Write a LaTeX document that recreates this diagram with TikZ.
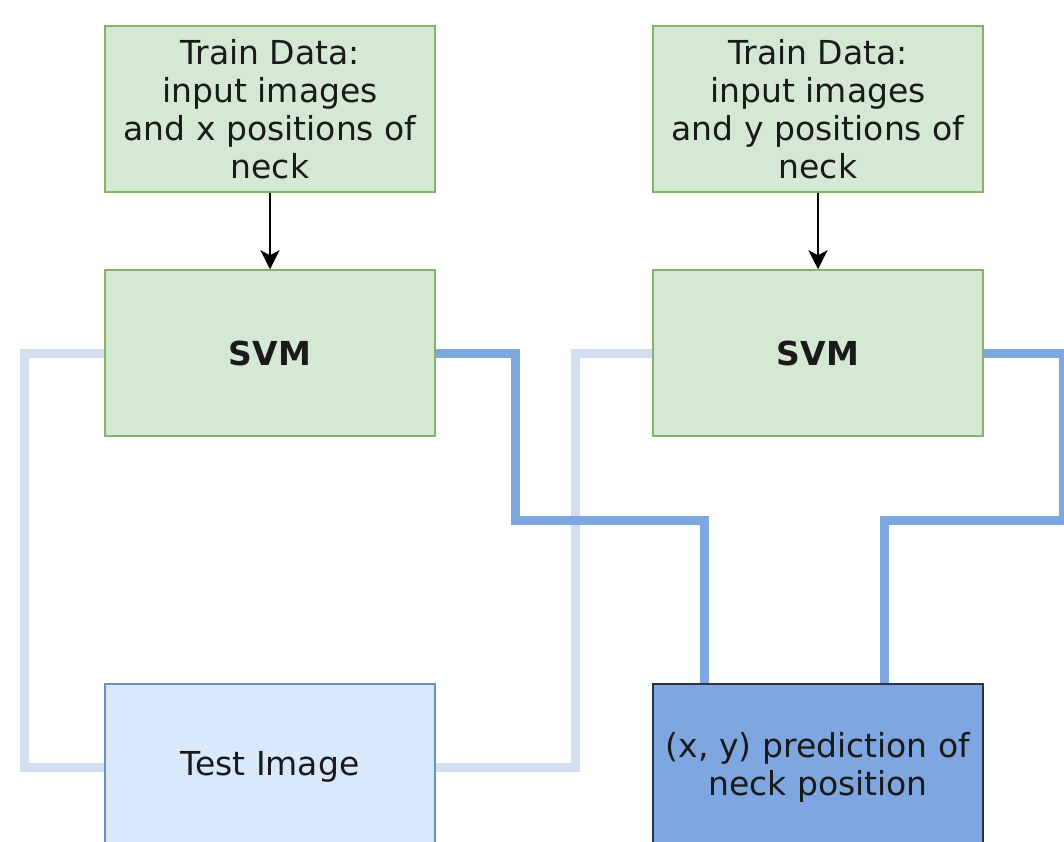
\documentclass[tikz,border=0pt]{standalone}
\usepackage{fontspec}
\setmainfont{DejaVu Sans}
\usetikzlibrary{arrows.meta}

\begin{document}
\begin{tikzpicture}[x=1pt, y=-1pt,
    trainBox/.style={draw=greenBorder, fill=greenFill, line width=1.5pt, minimum width=\boxWidth pt, minimum height=\boxHeight pt, inner sep=2pt, align=center, text=textColour, font=\fontsize{33}{38}\selectfont},
    testBox/.style={trainBox, draw=testBorder, fill=testFill},
    predBox/.style={trainBox, draw=predBorder, fill=predFill},
    feedArrow/.style={draw=black, line width=1.5pt, -{Stealth[width=19pt,length=19pt,inset=5pt]}},
    paleLine/.style={draw=paleBlue, line width=9pt},
    darkLine/.style={draw=darkBlue, line width=9pt}]
    % Define colours
    \definecolor{greenFill}{HTML}{D5E8D4}
    \definecolor{greenBorder}{HTML}{82B366}
    \definecolor{testFill}{HTML}{DAE8FC}
    \definecolor{testBorder}{HTML}{6C8EBF}
    \definecolor{predFill}{HTML}{7EA6E0}
    \definecolor{predBorder}{HTML}{2B3445}
    \definecolor{paleBlue}{HTML}{D3DFF0}
    \definecolor{darkBlue}{HTML}{7EA6E0}
    \definecolor{textColour}{HTML}{1A1A1A}

    % Define box size
    \def\boxWidth{330}
    \def\boxHeight{166}

    % Fix the page and cut off the lower boxes
    \clip (0,0) rectangle (1064,841);

    % Draw the train data and the two SVMs
    \node[trainBox] (trainX) at (270,109) {Train Data:\\input images\\and x positions of\\neck};
    \node[trainBox] (trainY) at (818,109) {Train Data:\\input images\\and y positions of\\neck};
    \node[trainBox, font=\fontsize{33}{38}\selectfont\bfseries] (svmX) at (270,353) {SVM};
    \node[trainBox, font=\fontsize{33}{38}\selectfont\bfseries] (svmY) at (818,353) {SVM};

    % Draw the test image and the prediction
    \node[testBox] (test) at (270,767) {Test Image};
    \node[predBox] (pred) at (818,767) {(x, y) prediction of\\neck position};

    % Train data into the SVMs
    \draw[feedArrow] (trainX) -- (svmX);
    \draw[feedArrow] (trainY) -- (svmY);

    % Test image into both SVMs
    \draw[paleLine] (svmX.west) -- ++(-80,0) |- (test.west);
    \draw[paleLine] (test.east) -- ++(140,0) |- (svmY.west);

    % SVM outputs into the prediction
    \draw[darkLine] (svmX.east) -- ++(80,0) -- ++(0,167) -| ([xshift=-114pt]pred.north);
    \draw[darkLine] (svmY.east) -- ++(80,0) -- ++(0,167) -| ([xshift=66pt]pred.north);

\end{tikzpicture}
\end{document}
